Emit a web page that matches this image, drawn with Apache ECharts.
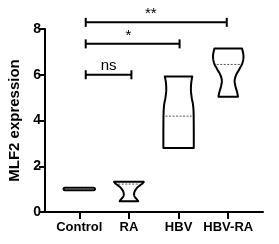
<!DOCTYPE html>
<html><head><meta charset="utf-8">
<script src="https://cdn.jsdelivr.net/npm/echarts@6/dist/echarts.min.js"></script>
<style>html,body{margin:0;padding:0;background:#fff}#c{width:279px;height:244px}</style>
</head><body><div id="c"></div>
<script>
// ---- data ----
const categories = ['Control', 'RA', 'HBV', 'HBV-RA'];
const yTicks = [0, 2, 4, 6, 8];
// violin outlines: expression levels (bottom -> top) and relative half-width (density)
const controlLevels = [0.95, 0.975, 1.035, 1.06];
const controlDensity = [0.9, 0.97, 0.97, 0.9];
const raLevels = [0.47, 0.55, 0.65, 0.77, 0.9, 1.05, 1.15, 1.25, 1.32];
const raDensity = [0.58, 0.5, 0.38, 0.32, 0.36, 0.5, 0.66, 0.85, 0.93];
const hbvLevels = [2.8, 3.5, 4.3, 4.7, 5.0, 5.35, 5.7, 5.92];
const hbvDensity = [0.95, 0.95, 0.94, 0.9, 0.82, 0.77, 0.8, 0.86];
const hbvRaLevels = [5.04, 5.25, 5.5, 5.75, 6.0, 6.25, 6.5, 6.75, 6.95, 7.15];
const hbvRaDensity = [0.61, 0.55, 0.45, 0.4, 0.5, 0.7, 0.88, 0.95, 0.93, 0.86];
const medians = [1.005, 1.22, 4.19, 6.45];
// significance brackets
const bracketFrom = [1.13, 1.13, 1.13];
const bracketTo = [2.05, 3.02, 3.97];
const bracketLevel = [6.0, 7.35, 8.29];
const bracketLabel = ['ns', '*', '**'];
const bracketLabelX = [1.59, 1.99, 2.44];

const levels = [controlLevels, raLevels, hbvLevels, hbvRaLevels];
const density = [controlDensity, raDensity, hbvDensity, hbvRaDensity];
const catPos = categories.map((c, i) => i + 1);

const HALF = 16;
const FONT = '"Liberation Sans", Arial, sans-serif';

function catmull(pts) {
  if (pts.length < 3) return pts.slice();
  const out = [];
  const n = pts.length;
  for (let i = 0; i < n - 1; i++) {
    const p0 = pts[Math.max(0, i - 1)], p1 = pts[i], p2 = pts[i + 1], p3 = pts[Math.min(n - 1, i + 2)];
    for (let s = 0; s < 8; s++) {
      const t = s / 8, t2 = t * t, t3 = t2 * t;
      const f = (a, b, c, d) => 0.5 * ((2 * b) + (-a + c) * t + (2 * a - 5 * b + 4 * c - d) * t2 + (-a + 3 * b - 3 * c + d) * t3);
      out.push([f(p0[0], p1[0], p2[0], p3[0]), f(p0[1], p1[1], p2[1], p3[1])]);
    }
  }
  out.push(pts[n - 1]);
  return out;
}

function interpW(i, v) {
  const L = levels[i], D = density[i];
  if (v <= L[0]) return D[0];
  for (let k = 0; k < L.length - 1; k++) {
    if (v <= L[k + 1]) {
      const t = (v - L[k]) / (L[k + 1] - L[k]);
      return D[k] + t * (D[k + 1] - D[k]);
    }
  }
  return D[D.length - 1];
}

function renderViolin(params, api) {
  const i = params.dataIndex;
  const cx = api.coord([api.value(0), 0])[0];
  const right = levels[i].map((v, k) => [cx + HALF * density[i][k], api.coord([0, v])[1]]);
  const left = levels[i].map((v, k) => [cx - HALF * density[i][k], api.coord([0, v])[1]]).reverse();
  const pts = catmull(right).concat(catmull(left));
  const my = api.coord([0, api.value(1)])[1];
  const hw = HALF * interpW(i, api.value(1)) - 2;
  return {
    type: 'group',
    children: [
      { type: 'polygon', shape: { points: pts },
        style: { fill: '#fff', stroke: '#000', lineWidth: 2, lineJoin: 'round' } },
      { type: 'line', shape: { x1: cx - hw, y1: my, x2: cx + hw, y2: my },
        style: { stroke: '#555', lineWidth: 1, lineDash: [2, 1.5] } }
    ]
  };
}

function renderBracket(params, api) {
  const i = params.dataIndex;
  const p1 = api.coord([bracketFrom[i], bracketLevel[i]]);
  const p2 = api.coord([bracketTo[i], bracketLevel[i]]);
  const lx = api.coord([bracketLabelX[i], bracketLevel[i]])[0];
  const cap = 4.5;
  const st = { stroke: '#000', lineWidth: 2 };
  return {
    type: 'group',
    children: [
      { type: 'line', shape: { x1: p1[0], y1: p1[1], x2: p2[0], y2: p2[1] }, style: st },
      { type: 'line', shape: { x1: p1[0], y1: p1[1] - cap, x2: p1[0], y2: p1[1] + cap }, style: st },
      { type: 'line', shape: { x1: p2[0], y1: p2[1] - cap, x2: p2[0], y2: p2[1] + cap }, style: st },
      { type: 'text', style: { text: bracketLabel[i], x: lx, y: p1[1] - 1, fill: '#000',
          font: '15px ' + FONT, align: 'center', verticalAlign: 'bottom',
          textAlign: 'center', textVerticalAlign: 'bottom' } }
    ]
  };
}

const chart = echarts.init(document.getElementById('c'), null, { renderer: 'canvas' });
chart.setOption({
  animation: false,
  backgroundColor: '#fff',
  grid: { left: 45, right: 16, top: 29, bottom: 32, containLabel: false, outerBoundsMode: 'none' },
  xAxis: {
    type: 'value', min: 0.31, max: 4.7,
    axisLine: { show: true, onZero: false, lineStyle: { color: '#000', width: 2 } },
    axisTick: { show: true, customValues: catPos, length: 7, lineStyle: { color: '#000', width: 2 } },
    axisLabel: { show: true, customValues: catPos, formatter: v => categories[Math.round(v) - 1],
      color: '#000', fontWeight: 'bold', fontSize: 13, fontFamily: FONT, margin: 9 },
    splitLine: { show: false }
  },
  yAxis: {
    type: 'value', min: yTicks[0], max: yTicks[yTicks.length - 1], interval: yTicks[1] - yTicks[0],
    name: 'MLF2 expression', nameLocation: 'middle', nameGap: 21,
    nameTextStyle: { color: '#000', fontWeight: 'bold', fontSize: 15, fontFamily: FONT },
    axisLine: { show: true, onZero: false, lineStyle: { color: '#000', width: 2 } },
    axisTick: { show: true, length: 6, lineStyle: { color: '#000', width: 2 } },
    axisLabel: { color: '#000', fontWeight: 'bold', fontSize: 14, fontFamily: FONT, margin: 4 },
    splitLine: { show: false }
  },
  series: [
    { type: 'custom', renderItem: renderViolin, clip: false,
      encode: { x: 0, y: 1 },
      data: catPos.map((p, i) => [p, medians[i]]) },
    { type: 'custom', renderItem: renderBracket, clip: false,
      encode: { x: 0, y: 1 },
      data: bracketLevel.map((l, i) => [bracketFrom[i], l]) }
  ]
});
</script></body></html>
